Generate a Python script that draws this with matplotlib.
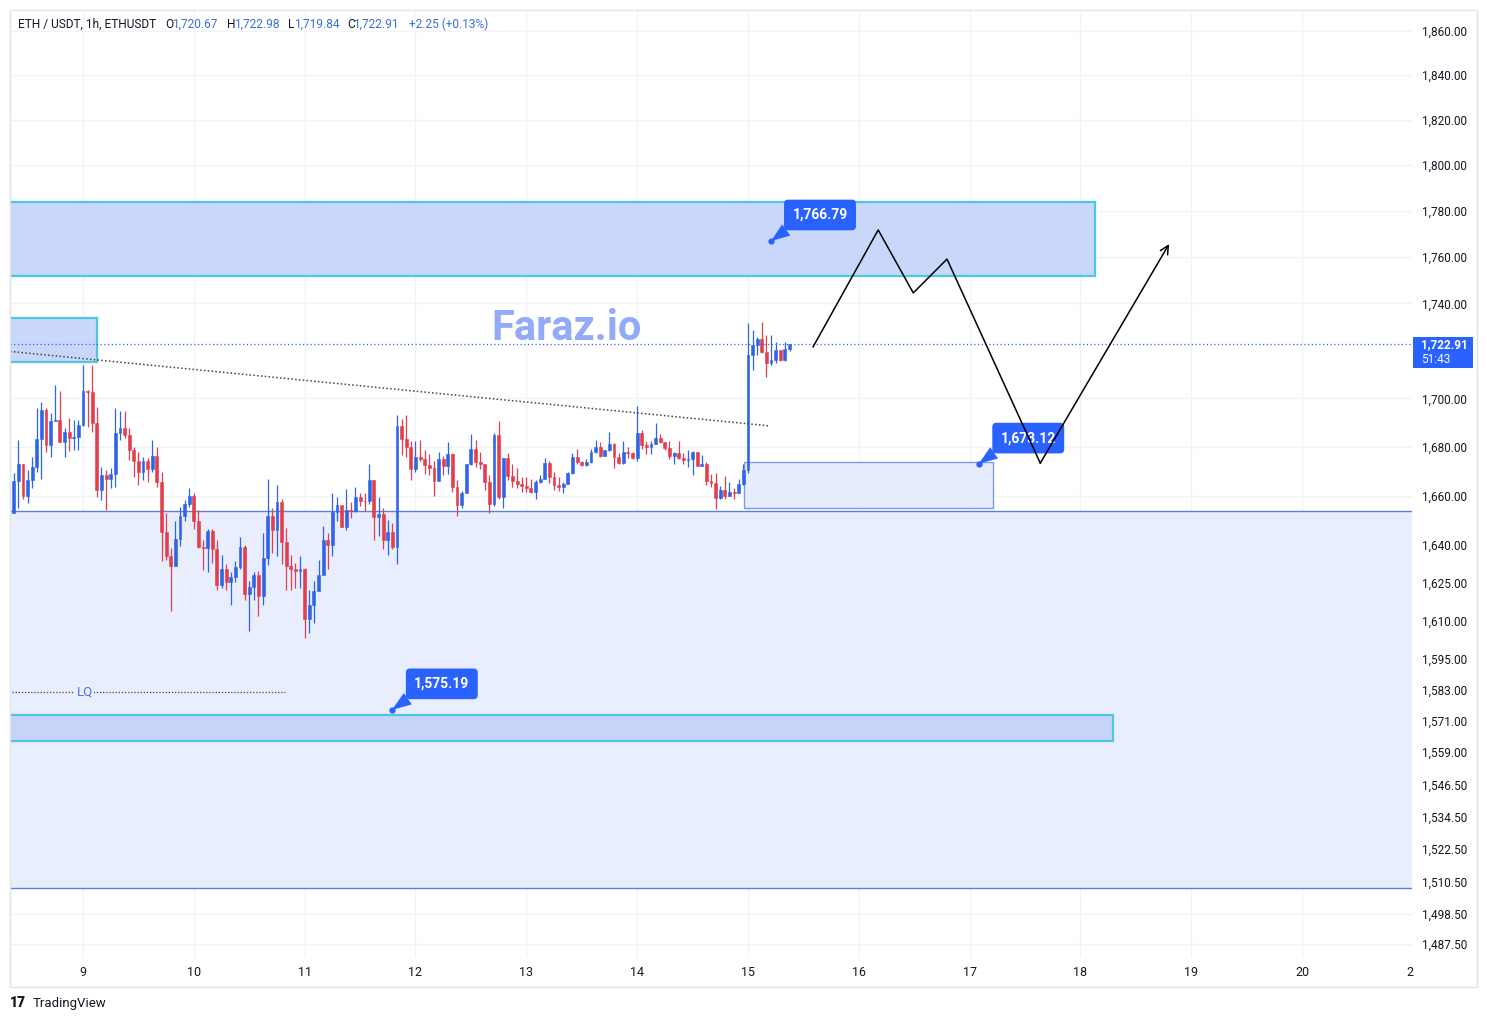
import numpy as np
import matplotlib.pyplot as plt
from matplotlib.patches import Rectangle
from matplotlib.ticker import FixedLocator, FixedFormatter, NullLocator

plt.rcParams['font.family'] = ['Roboto', 'DejaVu Sans']

W, H = 1487, 1021

# hourly ETH/USDT candles, hours counted from day 9 00:00
first_hour = -15
first_open = 1652.9
closes = [1666.0, 1672.9, 1660.1, 1666.6, 1671.8, 1683.1, 1695.3, 1680.8, 1690.8, 1691.1,
          1681.8, 1686.2, 1683.8, 1683.9, 1689.0, 1703.2, 1702.8, 1689.8, 1662.3, 1668.4,
          1666.9, 1668.8, 1685.6, 1687.7, 1684.9, 1678.7, 1674.3, 1669.8, 1674.3, 1670.8,
          1676.2, 1665.7, 1645.3, 1635.8, 1631.8, 1642.6, 1651.6, 1656.7, 1660.0, 1649.7,
          1639.5, 1639.0, 1645.7, 1638.7, 1624.0, 1630.3, 1625.4, 1627.5, 1631.4, 1639.5,
          1620.6, 1623.2, 1628.0, 1619.7, 1635.0, 1651.6, 1646.0, 1657.6, 1641.3, 1631.8,
          1630.4, 1629.7, 1630.3, 1610.5, 1616.0, 1621.6, 1628.2, 1642.2, 1640.2, 1653.6,
          1656.2, 1647.3, 1654.2, 1653.8, 1659.4, 1658.0, 1657.9, 1666.4, 1651.4, 1652.7,
          1642.2, 1645.2, 1639.3, 1688.4, 1683.1, 1680.0, 1671.0, 1676.0, 1674.8, 1672.5,
          1671.4, 1666.0, 1674.8, 1672.0, 1677.0, 1663.4, 1656.2, 1661.3, 1673.0, 1679.3,
          1673.8, 1672.8, 1665.7, 1656.7, 1684.9, 1659.4, 1675.4, 1668.0, 1666.0, 1664.8,
          1664.0, 1663.0, 1661.6, 1665.7, 1666.9, 1673.3, 1667.7, 1664.4, 1663.4, 1664.8,
          1669.4, 1676.0, 1673.8, 1672.5, 1673.8, 1678.0, 1680.0, 1676.4, 1678.5, 1681.3,
          1675.8, 1673.3, 1678.0, 1677.6, 1675.4, 1685.6, 1680.8, 1680.0, 1681.3, 1683.5,
          1681.8, 1679.6, 1676.4, 1677.6, 1675.4, 1674.6, 1675.0, 1678.0, 1672.1, 1673.0,
          1666.0, 1665.0, 1659.0, 1662.3, 1660.1, 1661.6, 1661.2, 1664.8, 1670.3, 1718.2,
          1722.4, 1724.8, 1719.6, 1715.0, 1716.1, 1720.3, 1716.1, 1720.67, 1722.91]
highs = [1669.4, 1682.9, 1672.9, 1670.5, 1676.0, 1696.0, 1698.5, 1696.0, 1694.0, 1705.6,
         1703.2, 1687.7, 1691.8, 1691.0, 1691.0, 1714.0, 1703.5, 1714.0, 1696.6, 1671.8,
         1670.5, 1671.2, 1696.0, 1695.0, 1695.0, 1687.7, 1680.0, 1678.0, 1675.8, 1675.4,
         1682.9, 1680.0, 1669.7, 1653.0, 1639.0, 1649.7, 1655.6, 1658.3, 1663.2, 1661.0,
         1654.3, 1642.2, 1646.4, 1646.4, 1642.0, 1636.2, 1632.6, 1629.3, 1633.6, 1643.2,
         1640.2, 1625.8, 1629.3, 1629.7, 1645.0, 1667.0, 1655.0, 1664.4, 1658.6, 1647.0,
         1636.2, 1632.8, 1635.8, 1631.0, 1622.2, 1625.6, 1634.2, 1647.6, 1645.0, 1661.0,
         1659.4, 1656.2, 1662.6, 1657.6, 1663.4, 1661.3, 1661.3, 1673.0, 1666.4, 1659.4,
         1655.0, 1650.2, 1649.0, 1693.2, 1691.4, 1693.2, 1682.6, 1682.6, 1682.9, 1678.7,
         1677.0, 1674.3, 1678.0, 1676.2, 1681.8, 1677.5, 1666.4, 1662.1, 1673.0, 1685.3,
         1682.9, 1678.0, 1672.8, 1668.4, 1685.6, 1690.8, 1675.4, 1677.3, 1673.0, 1671.2,
         1667.7, 1667.7, 1667.0, 1666.4, 1668.4, 1675.4, 1674.0, 1669.7, 1667.7, 1665.5,
         1669.8, 1677.3, 1679.3, 1674.0, 1675.0, 1679.0, 1683.0, 1681.8, 1678.6, 1686.3,
         1681.5, 1677.5, 1682.2, 1680.0, 1677.8, 1696.9, 1686.8, 1682.6, 1682.6, 1689.8,
         1685.2, 1682.0, 1682.2, 1678.0, 1682.2, 1677.3, 1678.7, 1678.3, 1678.0, 1676.6,
         1673.8, 1669.0, 1669.4, 1664.0, 1668.0, 1665.7, 1663.0, 1667.0, 1673.0, 1731.9,
         1728.6, 1725.6, 1732.3, 1726.5, 1726.5, 1723.8, 1720.3, 1723.8, 1722.98]
lows = [1652.9, 1655.0, 1658.5, 1657.0, 1663.0, 1669.5, 1667.0, 1678.0, 1676.0, 1690.5,
        1681.8, 1675.8, 1678.4, 1678.7, 1678.7, 1688.6, 1688.0, 1686.2, 1659.6, 1658.3,
        1654.3, 1663.0, 1663.7, 1682.9, 1683.6, 1674.6, 1667.7, 1664.4, 1666.4, 1665.7,
        1669.7, 1663.7, 1633.6, 1634.0, 1613.7, 1631.8, 1639.7, 1649.7, 1655.6, 1646.6,
        1639.0, 1630.0, 1629.3, 1633.0, 1622.0, 1623.0, 1622.0, 1616.0, 1625.4, 1630.3,
        1618.0, 1606.0, 1618.0, 1612.0, 1616.0, 1632.0, 1637.0, 1635.8, 1632.6, 1622.0,
        1622.0, 1623.0, 1623.0, 1603.0, 1605.0, 1609.0, 1621.6, 1628.0, 1630.3, 1635.8,
        1649.7, 1647.3, 1646.0, 1651.0, 1653.6, 1656.0, 1654.0, 1656.8, 1642.0, 1643.8,
        1638.7, 1636.2, 1638.7, 1632.6, 1676.6, 1676.0, 1666.4, 1669.5, 1674.3, 1668.8,
        1668.4, 1660.1, 1666.0, 1668.4, 1668.8, 1661.6, 1651.6, 1655.0, 1661.3, 1672.5,
        1671.6, 1671.0, 1662.3, 1653.2, 1656.0, 1658.6, 1655.0, 1666.6, 1663.4, 1663.0,
        1661.6, 1661.6, 1661.0, 1658.6, 1665.0, 1666.9, 1665.3, 1662.5, 1662.1, 1661.0,
        1664.8, 1669.0, 1673.0, 1672.0, 1672.0, 1673.5, 1677.5, 1675.8, 1676.4, 1678.3,
        1671.2, 1673.0, 1673.0, 1675.4, 1674.8, 1674.3, 1679.0, 1677.0, 1677.0, 1681.0,
        1681.5, 1678.5, 1675.0, 1673.0, 1675.0, 1673.0, 1671.6, 1668.4, 1672.0, 1672.0,
        1664.4, 1663.7, 1654.6, 1658.6, 1658.6, 1660.0, 1658.6, 1661.0, 1664.5, 1669.1,
        1711.9, 1718.2, 1718.9, 1709.1, 1714.0, 1715.0, 1715.5, 1715.5, 1719.84]

price_ticks = [1860, 1840, 1820, 1800, 1780, 1760, 1740, 1700, 1680, 1660, 1640, 1625,
               1610, 1595, 1583, 1571, 1559, 1546.5, 1534.5, 1522.5, 1510.5, 1498.5, 1487.5]
day_labels = ['9', '10', '11', '12', '13', '14', '15', '16', '17', '18', '19', '20', '2']
day_hours = [0, 24, 48, 72, 96, 120, 144, 168, 192, 216, 240, 264, 287.3]

last_price = 1722.91
# zones (hour start, hour end, price low, price high)
upper_zone = (-16, 219.2, 1751.7, 1783.7)
left_zone = (-16, 3.0, 1715.3, 1733.8)
big_zone = (-16, 288, 1508.0, 1653.8)
low_zone = (-16, 223.1, 1563.3, 1573.3)
demand_box = (143.2, 197.1, 1655.0, 1673.8)
trend_x = [-15.8, 148.8]
trend_y = [1719.7, 1688.6]
lq_x = [-15.4, 43.7]
lq_y = 1582.2
path_x = [158.1, 172.2, 179.8, 187.1, 207.3, 235.2]
path_y = [1721.6, 1771.6, 1744.5, 1759.0, 1673.3, 1765.5]
callouts = [('1,766.79', 149.0, 1766.79, 159.6, 1778.1),
            ('1,673.12', 194.0, 1673.12, 204.7, 1683.6),
            ('1,575.19', 66.9, 1575.19, 77.7, 1585.3)]

BLUE = '#2f64e6'
RED = '#e23e4e'
TAG = '#2962ff'


def px(x):
    return x / W


def py(y):
    return 1 - y / H


fig = plt.figure(figsize=(W / 100, H / 100), dpi=100)
ax = fig.add_axes([px(10), py(958), px(1412) - px(10), py(10) - py(958)])
for s in ax.spines.values():
    s.set_visible(False)

ax.set_yscale('log')
ax.set_xlim(-15.81, 287.8)
ax.set_ylim(1482.4, 1869.6)

# grid
for p in price_ticks:
    ax.axhline(p, color='#f0f3fa', lw=1, zorder=0)
for h in day_hours[:-1]:
    ax.axvline(h, color='#f0f3fa', lw=1, zorder=0)

# zones
def zone(z, fc, ec, lw=1.5, zo=1):
    ax.add_patch(Rectangle((z[0], z[2]), z[1] - z[0], z[3] - z[2], fc=fc, ec=ec,
                           lw=lw, zorder=zo))

ax.add_patch(Rectangle((big_zone[0], big_zone[2]), big_zone[1] - big_zone[0],
                       big_zone[3] - big_zone[2], fc='#e8eefd', ec='none', zorder=1))
ax.axhline(big_zone[2], color='#5b80da', lw=1, zorder=1.5)
ax.axhline(big_zone[3], color='#5b80da', lw=1, zorder=1.5)
zone(upper_zone, '#c9d7fb', '#4ec8dd', 1.6, 2)
zone(left_zone, '#c9d7fb', '#4ec8dd', 1.6, 2)
zone(low_zone, '#c6d4fa', '#4ec8dd', 1.6, 2)
zone(demand_box, '#e6edfd', '#7d9be2', 1.0, 2)

# candles
hours = first_hour + np.arange(len(closes))
opens = [first_open] + closes[:-1]
for h, o, hi, lo, c in zip(hours, opens, highs, lows, closes):
    col = BLUE if c >= o else RED
    ax.vlines(h, lo, hi, color=col, lw=0.9, zorder=3)
    ax.bar(h, abs(c - o), bottom=min(o, c), width=0.62, color=col, ec=col, lw=0.4,
           zorder=3.1)

# lines
ax.axhline(last_price, color='#2962ff', lw=0.9, ls=(0, (1, 2)), zorder=4)
ax.plot(trend_x, trend_y, color='#444444', lw=1.1, ls=(0, (1, 1.5)), zorder=4)
ax.plot(lq_x, [lq_y, lq_y], color='#2b3f8f', lw=0.9, ls=(0, (1, 1.5)), zorder=4)
ax.text(0.4, lq_y, 'LQ', color='#4a74d8', fontsize=9.5, ha='center', va='center',
        zorder=5, bbox=dict(fc='#e8eefd', ec='none', pad=1))

for txt, hx, hy, tx, ty in callouts:
    ax.annotate(txt, xy=(hx, hy), xytext=(tx, ty), ha='center', va='center',
                color='white', fontsize=10, fontweight='bold', zorder=6,
                bbox=dict(boxstyle='round,pad=0.6,rounding_size=0.3', fc=TAG, ec='none'),
                arrowprops=dict(arrowstyle='wedge,tail_width=1.0,shrink_factor=0.5',
                                fc=TAG, ec='none', shrinkA=0, shrinkB=0,
                                relpos=(0.12, 0.1)))
    ax.plot(hx, hy, 'o', color=TAG, ms=3.5, zorder=6)

# forecast path drawn over the labels
ax.plot(path_x[:-1], path_y[:-1], color='black', lw=1.1, zorder=8)
ax.annotate('', xy=(path_x[-1], path_y[-1]), xytext=(path_x[-2], path_y[-2]),
            arrowprops=dict(arrowstyle='->,head_length=0.6,head_width=0.3', color='black',
                            lw=1.1, shrinkA=0, shrinkB=0), zorder=8)

# axes ticks
ax.yaxis.tick_right()
ax.yaxis.set_major_locator(FixedLocator(price_ticks))
ax.yaxis.set_major_formatter(FixedFormatter(['{:,.2f}'.format(p) for p in price_ticks]))
ax.yaxis.set_minor_locator(NullLocator())
ax.set_xticks(day_hours)
ax.set_xticklabels(day_labels)
ax.tick_params(axis='y', length=0, pad=7, labelsize=8.5, labelcolor='#131722')
ax.tick_params(axis='x', length=0, pad=6, labelsize=9, labelcolor='#131722')

# last price tag
fig.patches.append(Rectangle((px(1413), py(368)), px(60), 31 / H, transform=fig.transFigure,
                             fc=TAG, ec='none'))
fig.text(px(1421), py(345), '1,722.91', color='white', fontsize=8.5, fontweight='bold',
         va='center', ha='left')
fig.text(px(1421), py(359), '51:43', color='white', fontsize=8.5, va='center', ha='left')

# watermark
fig.text(px(567), py(328), 'Faraz.io', ha='center', va='center', fontsize=30,
         fontweight='bold', color='#93abf6', zorder=7)

# header
header = [(18, 'ETH / USDT, 1h, ETHUSDT', '#131722'), (165, 'O', '#131722'),
          (172, '1,720.67', '#3a6fd8'), (227, 'H', '#131722'), (234, '1,722.98', '#3a6fd8'),
          (288, 'L', '#131722'), (294, '1,719.84', '#3a6fd8'), (347, 'C', '#131722'),
          (353, '1,722.91', '#3a6fd8'), (409, '+2.25 (+0.13%)', '#3a6fd8')]
for x, s, c in header:
    fig.text(px(x), py(24), s, color=c, fontsize=8.6, va='center', ha='left')

# frame and logo
fig.patches.append(Rectangle((px(10), py(987)), px(1467), 977 / H, transform=fig.transFigure,
                             fill=False, ec='#e0e3eb', lw=1))
fig.text(px(10), py(1003), '17', fontsize=10, fontweight='heavy', color='#131722',
         va='center', ha='left')
fig.text(px(33), py(1003), 'TradingView', fontsize=9.5, color='#131722', va='center',
         ha='left')

fig.savefig('out.png', dpi=100)
